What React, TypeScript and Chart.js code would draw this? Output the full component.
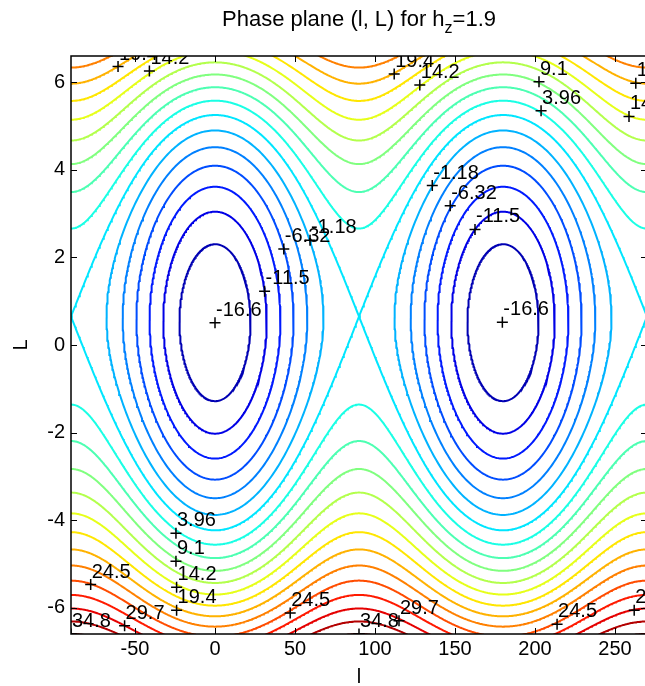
import { useEffect, useRef } from "react";
import { Chart, registerables } from "chart.js";

Chart.register(...registerables);

// ---- data -------------------------------------------------------------
// contour levels (MATLAB contour, 21 levels between min and max of the field)
const levels = [
  -16.6, -14.03, -11.46, -8.89, -6.32, -3.75, -1.18, 1.39, 3.96, 6.53, 9.1,
  11.67, 14.24, 16.81, 19.38, 21.95, 24.52, 27.09, 29.66, 32.23, 34.8,
];

// field H(l, L): H = curv * (L - centre)^2 + floor,
// each coefficient given at sin^2(l) = 0 (l = 0, 180) and sin^2(l) = 1 (l = 90, 270)
const modelSin2 = [0, 1];
const modelFloor = [-16.6, 1.39];
const modelCurv = [0.8, 0.636];
const modelCentre = [0.51, 0.65];

// centres of the closed orbits (elliptic points), in degrees
const wellCentres = [0, 180];

// axis ranges and ticks
const xRange = [-90, 270];
const yRange = [-6.6, 6.6];
const xTicks = [-50, 0, 50, 100, 150, 200, 250];
const yTicks = [-6, -4, -2, 0, 2, 4, 6];

// clabel '+' markers: position (l, L) and level index
const labelLon = [
  0, 31, 43, 59.4, 179.6, 162.5, 147, 135.8, 203.8, 202.5, 128, 112, 258.75,
  263, -60.6, -41, -24.4, -24.4, -24, -24, -77.7, -56.5, -90, 47, 90, 115,
  213.8, 262,
];
const labelMom = [
  0.51, 1.23, 2.19, 2.39, 0.52, 2.64, 3.18, 3.64, 5.35, 6.01, 5.94, 6.19, 5.22,
  5.98, 6.36, 6.26, -4.3, -4.94, -5.53, -6.06, -5.47, -6.41, -6.6, -6.12, -6.6,
  -6.3, -6.38, -6.06,
];
const labelLevelIdx = [
  0, 2, 4, 6, 0, 2, 4, 6, 8, 10, 12, 14, 12, 14, 14, 12, 8, 10, 12, 14, 16, 18,
  20, 16, 20, 18, 16, 18,
];

// ---- helpers ----------------------------------------------------------
const FONT = "'Liberation Sans', Arial, Helvetica, sans-serif";

const lerp = (arr: number[], s: number) =>
  arr[0] + ((arr[1] - arr[0]) * (s - modelSin2[0])) / (modelSin2[1] - modelSin2[0]);

function fieldAt(l: number) {
  const s = Math.sin((l * Math.PI) / 180) ** 2;
  return { floor: lerp(modelFloor, s), curv: lerp(modelCurv, s), centre: lerp(modelCentre, s) };
}

function momentum(h: number, l: number, sign: number) {
  const p = fieldAt(l);
  const D = Math.max(0, (h - p.floor) / p.curv);
  return p.centre + sign * Math.sqrt(D);
}

function jet(t: number) {
  const f = (v: number) => Math.round(255 * Math.min(1, Math.max(0, v)));
  return `rgb(${f(1.5 - Math.abs(4 * t - 3))},${f(1.5 - Math.abs(4 * t - 2))},${f(
    1.5 - Math.abs(4 * t - 1)
  )})`;
}

function buildDatasets() {
  const out: any[] = [];
  const lo = levels[0];
  const hi = levels[levels.length - 1];
  const saddle = modelFloor[1];
  levels.forEach((h, k) => {
    if (k === 0) return; // minimum: a single point
    const color = jet((h - lo) / (hi - lo));
    const base = {
      showLine: true,
      pointRadius: 0,
      borderColor: color,
      backgroundColor: color,
      borderWidth: 2,
      fill: false,
      tension: 0,
      clip: 0,
    };
    if (h < saddle - 1e-9) {
      // closed orbit around each well
      const sStar = (h - modelFloor[0]) / (modelFloor[1] - modelFloor[0]);
      const w = (Math.asin(Math.sqrt(Math.max(0, sStar))) * 180) / Math.PI;
      wellCentres.forEach((l0) => {
        const pts: { x: number; y: number }[] = [];
        const N = 200;
        for (let i = 0; i <= N; i++) {
          const phi = -Math.PI / 2 + (Math.PI * i) / N;
          const l = l0 + w * Math.sin(phi);
          pts.push({ x: l, y: momentum(h, l, 1) });
        }
        for (let i = N; i >= 0; i--) {
          const phi = -Math.PI / 2 + (Math.PI * i) / N;
          const l = l0 + w * Math.sin(phi);
          pts.push({ x: l, y: momentum(h, l, -1) });
        }
        out.push({ ...base, data: pts });
      });
    } else {
      [1, -1].forEach((sign) => {
        const pts: { x: number; y: number }[] = [];
        for (let l = xRange[0]; l <= xRange[1] + 1e-9; l += 0.5) {
          pts.push({ x: l, y: momentum(h, l, sign) });
        }
        out.push({ ...base, data: pts });
      });
    }
  });
  return out;
}

const fmtLevel = (v: number) => String(Number(v.toPrecision(3)));

const decorPlugin = {
  id: "decor",
  afterDatasetsDraw(chart: any) {
    const { ctx, chartArea: a, scales } = chart;
    const x = scales.x;
    const y = scales.y;
    // contour labels, clipped to the axes box
    ctx.save();
    ctx.beginPath();
    ctx.rect(a.left, a.top, a.right - a.left, a.bottom - a.top);
    ctx.clip();
    ctx.strokeStyle = "#000";
    ctx.fillStyle = "#000";
    ctx.lineWidth = 1.5;
    ctx.font = `20px ${FONT}`;
    ctx.textAlign = "left";
    ctx.textBaseline = "alphabetic";
    labelLon.forEach((l, i) => {
      const px = x.getPixelForValue(l);
      const py = y.getPixelForValue(labelMom[i]);
      ctx.beginPath();
      ctx.moveTo(px - 5.5, py);
      ctx.lineTo(px + 5.5, py);
      ctx.moveTo(px, py - 5.5);
      ctx.lineTo(px, py + 5.5);
      ctx.stroke();
      ctx.fillText(fmtLevel(levels[labelLevelIdx[i]]), px + 1, py - 7);
    });
    ctx.restore();

    // axes box and inward ticks
    ctx.save();
    ctx.strokeStyle = "#000";
    ctx.lineWidth = 1.5;
    ctx.beginPath();
    ctx.rect(a.left, a.top, a.right - a.left, a.bottom - a.top);
    ctx.stroke();
    ctx.lineWidth = 1;
    ctx.beginPath();
    xTicks.forEach((v) => {
      const px = Math.round(x.getPixelForValue(v)) + 0.5;
      ctx.moveTo(px, a.bottom);
      ctx.lineTo(px, a.bottom - 6);
      ctx.moveTo(px, a.top);
      ctx.lineTo(px, a.top + 6);
    });
    yTicks.forEach((v) => {
      const py = Math.round(y.getPixelForValue(v)) + 0.5;
      ctx.moveTo(a.left, py);
      ctx.lineTo(a.left + 6, py);
      ctx.moveTo(a.right, py);
      ctx.lineTo(a.right - 6, py);
    });
    ctx.stroke();

    // titles
    ctx.fillStyle = "#000";
    const cx = (a.left + a.right) / 2;
    const t1 = "Phase plane (l, L) for h";
    const t2 = "z";
    const t3 = "=1.9";
    ctx.font = `22px ${FONT}`;
    const w1 = ctx.measureText(t1).width;
    const w3 = ctx.measureText(t3).width;
    ctx.font = `16px ${FONT}`;
    const w2 = ctx.measureText(t2).width;
    let sx = cx - (w1 + w2 + w3) / 2;
    ctx.textAlign = "left";
    ctx.textBaseline = "alphabetic";
    ctx.font = `22px ${FONT}`;
    ctx.fillText(t1, sx, 26);
    sx += w1;
    ctx.font = `16px ${FONT}`;
    ctx.fillText(t2, sx, 33);
    sx += w2;
    ctx.font = `22px ${FONT}`;
    ctx.fillText(t3, sx, 26);

    ctx.font = `20px ${FONT}`;
    ctx.textAlign = "center";
    ctx.fillText("l", cx, 683);
    ctx.save();
    ctx.translate(21, (a.top + a.bottom) / 2);
    ctx.rotate(-Math.PI / 2);
    ctx.textBaseline = "middle";
    ctx.fillText("L", 0, 0);
    ctx.restore();
    ctx.restore();
  },
};

export default function App() {
  const ref = useRef<HTMLCanvasElement>(null);
  useEffect(() => {
    if (!ref.current) return;
    Chart.defaults.font.family = FONT;
    const chart = new Chart(ref.current, {
      type: "scatter",
      data: { datasets: buildDatasets() },
      options: {
        responsive: false,
        animation: false,
        devicePixelRatio: 1,
        events: [],
        layout: { padding: { top: 56, right: 13, bottom: 0, left: 0 } },
        plugins: { legend: { display: false }, tooltip: { enabled: false }, title: { display: false } },
        scales: {
          x: {
            type: "linear",
            position: "bottom",
            min: xRange[0],
            max: xRange[1],
            grid: { display: false, drawTicks: false },
            border: { display: false },
            ticks: {
              color: "#000",
              font: { size: 20, family: FONT },
              padding: 3,
              maxRotation: 0,
              autoSkip: false,
              callback: (v: any) => String(v),
            },
            afterBuildTicks: (s: any) => {
              s.ticks = xTicks.map((v) => ({ value: v }));
            },
            afterFit: (s: any) => {
              s.height = 52;
            },
          },
          y: {
            type: "linear",
            position: "left",
            min: yRange[0],
            max: yRange[1],
            grid: { display: false, drawTicks: false },
            border: { display: false },
            ticks: {
              color: "#000",
              font: { size: 20, family: FONT },
              padding: 6,
              autoSkip: false,
              callback: (v: any) => String(v),
            },
            afterBuildTicks: (s: any) => {
              s.ticks = yTicks.map((v) => ({ value: v }));
            },
            afterFit: (s: any) => {
              s.width = 71;
            },
          },
        },
      },
      plugins: [decorPlugin],
    } as any);
    return () => chart.destroy();
  }, []);
  return (
    <div
      style={{
        position: "fixed",
        left: 0,
        top: 0,
        width: 645,
        height: 686,
        overflow: "hidden",
        background: "#fff",
      }}
    >
      <canvas ref={ref} width={660} height={686} style={{ display: "block" }} />
    </div>
  );
}
